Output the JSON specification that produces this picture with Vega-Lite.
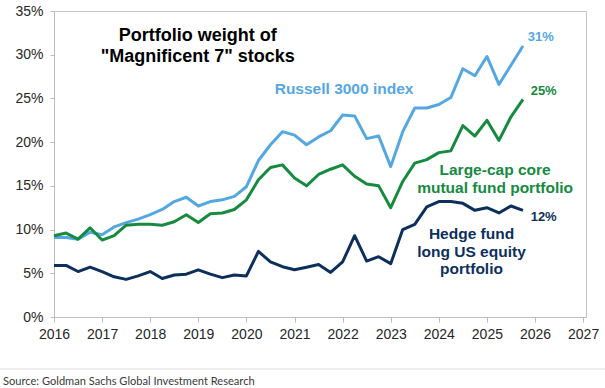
{
  "$schema": "https://vega.github.io/schema/vega-lite/v6.json",
  "width": 532,
  "height": 306,
  "autosize": "none",
  "padding": {"left": 54, "top": 11, "right": 19, "bottom": 71},
  "background": "white",
  "config": {
    "view": {"stroke": "#c4c4c4", "strokeWidth": 1},
    "axis": {"domainColor": "#bdbdbd", "tickColor": "#bdbdbd", "labelColor": "#262626", "labelFont": "Liberation Sans", "labelFontSize": 14, "grid": false, "title": null}
  },
  "datasets": {
    "series": [
      {"t": 2016.0, "g": "russell", "v": 0.091}, {"t": 2016.25, "g": "russell", "v": 0.091}, {"t": 2016.5, "g": "russell", "v": 0.089}, {"t": 2016.75, "g": "russell", "v": 0.097},
      {"t": 2017.0, "g": "russell", "v": 0.094}, {"t": 2017.25, "g": "russell", "v": 0.103}, {"t": 2017.5, "g": "russell", "v": 0.108}, {"t": 2017.75, "g": "russell", "v": 0.112},
      {"t": 2018.0, "g": "russell", "v": 0.117}, {"t": 2018.25, "g": "russell", "v": 0.123}, {"t": 2018.5, "g": "russell", "v": 0.132}, {"t": 2018.75, "g": "russell", "v": 0.137},
      {"t": 2019.0, "g": "russell", "v": 0.127}, {"t": 2019.25, "g": "russell", "v": 0.132}, {"t": 2019.5, "g": "russell", "v": 0.134}, {"t": 2019.75, "g": "russell", "v": 0.138},
      {"t": 2020.0, "g": "russell", "v": 0.149}, {"t": 2020.25, "g": "russell", "v": 0.179}, {"t": 2020.5, "g": "russell", "v": 0.197}, {"t": 2020.75, "g": "russell", "v": 0.212},
      {"t": 2021.0, "g": "russell", "v": 0.208}, {"t": 2021.25, "g": "russell", "v": 0.197}, {"t": 2021.5, "g": "russell", "v": 0.206}, {"t": 2021.75, "g": "russell", "v": 0.213},
      {"t": 2022.0, "g": "russell", "v": 0.231}, {"t": 2022.25, "g": "russell", "v": 0.230}, {"t": 2022.5, "g": "russell", "v": 0.204}, {"t": 2022.75, "g": "russell", "v": 0.207},
      {"t": 2023.0, "g": "russell", "v": 0.172}, {"t": 2023.25, "g": "russell", "v": 0.212}, {"t": 2023.5, "g": "russell", "v": 0.239}, {"t": 2023.75, "g": "russell", "v": 0.239},
      {"t": 2024.0, "g": "russell", "v": 0.243}, {"t": 2024.25, "g": "russell", "v": 0.251}, {"t": 2024.5, "g": "russell", "v": 0.284}, {"t": 2024.75, "g": "russell", "v": 0.276},
      {"t": 2025.0, "g": "russell", "v": 0.298}, {"t": 2025.25, "g": "russell", "v": 0.266}, {"t": 2025.5, "g": "russell", "v": 0.288}, {"t": 2025.75, "g": "russell", "v": 0.310},

      {"t": 2016.0, "g": "mutual", "v": 0.093}, {"t": 2016.25, "g": "mutual", "v": 0.096}, {"t": 2016.5, "g": "mutual", "v": 0.089}, {"t": 2016.75, "g": "mutual", "v": 0.102},
      {"t": 2017.0, "g": "mutual", "v": 0.088}, {"t": 2017.25, "g": "mutual", "v": 0.093}, {"t": 2017.5, "g": "mutual", "v": 0.105}, {"t": 2017.75, "g": "mutual", "v": 0.106},
      {"t": 2018.0, "g": "mutual", "v": 0.106}, {"t": 2018.25, "g": "mutual", "v": 0.105}, {"t": 2018.5, "g": "mutual", "v": 0.109}, {"t": 2018.75, "g": "mutual", "v": 0.117},
      {"t": 2019.0, "g": "mutual", "v": 0.108}, {"t": 2019.25, "g": "mutual", "v": 0.118}, {"t": 2019.5, "g": "mutual", "v": 0.119}, {"t": 2019.75, "g": "mutual", "v": 0.123},
      {"t": 2020.0, "g": "mutual", "v": 0.134}, {"t": 2020.25, "g": "mutual", "v": 0.157}, {"t": 2020.5, "g": "mutual", "v": 0.171}, {"t": 2020.75, "g": "mutual", "v": 0.174},
      {"t": 2021.0, "g": "mutual", "v": 0.159}, {"t": 2021.25, "g": "mutual", "v": 0.150}, {"t": 2021.5, "g": "mutual", "v": 0.163}, {"t": 2021.75, "g": "mutual", "v": 0.169},
      {"t": 2022.0, "g": "mutual", "v": 0.174}, {"t": 2022.25, "g": "mutual", "v": 0.161}, {"t": 2022.5, "g": "mutual", "v": 0.152}, {"t": 2022.75, "g": "mutual", "v": 0.150},
      {"t": 2023.0, "g": "mutual", "v": 0.125}, {"t": 2023.25, "g": "mutual", "v": 0.155}, {"t": 2023.5, "g": "mutual", "v": 0.176}, {"t": 2023.75, "g": "mutual", "v": 0.180},
      {"t": 2024.0, "g": "mutual", "v": 0.188}, {"t": 2024.25, "g": "mutual", "v": 0.190}, {"t": 2024.5, "g": "mutual", "v": 0.219}, {"t": 2024.75, "g": "mutual", "v": 0.207},
      {"t": 2025.0, "g": "mutual", "v": 0.225}, {"t": 2025.25, "g": "mutual", "v": 0.202}, {"t": 2025.5, "g": "mutual", "v": 0.229}, {"t": 2025.75, "g": "mutual", "v": 0.249},

      {"t": 2016.0, "g": "hedge", "v": 0.059}, {"t": 2016.25, "g": "hedge", "v": 0.059}, {"t": 2016.5, "g": "hedge", "v": 0.052}, {"t": 2016.75, "g": "hedge", "v": 0.057},
      {"t": 2017.0, "g": "hedge", "v": 0.052}, {"t": 2017.25, "g": "hedge", "v": 0.046}, {"t": 2017.5, "g": "hedge", "v": 0.043}, {"t": 2017.75, "g": "hedge", "v": 0.047},
      {"t": 2018.0, "g": "hedge", "v": 0.052}, {"t": 2018.25, "g": "hedge", "v": 0.044}, {"t": 2018.5, "g": "hedge", "v": 0.048}, {"t": 2018.75, "g": "hedge", "v": 0.049},
      {"t": 2019.0, "g": "hedge", "v": 0.054}, {"t": 2019.25, "g": "hedge", "v": 0.049}, {"t": 2019.5, "g": "hedge", "v": 0.045}, {"t": 2019.75, "g": "hedge", "v": 0.048},
      {"t": 2020.0, "g": "hedge", "v": 0.047}, {"t": 2020.25, "g": "hedge", "v": 0.075}, {"t": 2020.5, "g": "hedge", "v": 0.063}, {"t": 2020.75, "g": "hedge", "v": 0.0575},
      {"t": 2021.0, "g": "hedge", "v": 0.054}, {"t": 2021.25, "g": "hedge", "v": 0.057}, {"t": 2021.5, "g": "hedge", "v": 0.060}, {"t": 2021.75, "g": "hedge", "v": 0.051},
      {"t": 2022.0, "g": "hedge", "v": 0.063}, {"t": 2022.25, "g": "hedge", "v": 0.093}, {"t": 2022.5, "g": "hedge", "v": 0.064}, {"t": 2022.75, "g": "hedge", "v": 0.069},
      {"t": 2023.0, "g": "hedge", "v": 0.061}, {"t": 2023.25, "g": "hedge", "v": 0.100}, {"t": 2023.5, "g": "hedge", "v": 0.106}, {"t": 2023.75, "g": "hedge", "v": 0.126},
      {"t": 2024.0, "g": "hedge", "v": 0.132}, {"t": 2024.25, "g": "hedge", "v": 0.132}, {"t": 2024.5, "g": "hedge", "v": 0.130}, {"t": 2024.75, "g": "hedge", "v": 0.122},
      {"t": 2025.0, "g": "hedge", "v": 0.125}, {"t": 2025.25, "g": "hedge", "v": 0.119}, {"t": 2025.5, "g": "hedge", "v": 0.127}, {"t": 2025.75, "g": "hedge", "v": 0.122}
    ],
    "titleLines": [
      {"label": "Portfolio weight of", "t": 2018.99, "v": 0.3214},
      {"label": "\"Magnificent 7\" stocks", "t": 2018.99, "v": 0.2974}
    ],
    "seriesLabels": [
      {"label": "Russell 3000 index", "g": "russell", "t": 2022.03, "v": 0.2608},
      {"label": "Large-cap core", "g": "mutual", "t": 2025.17, "v": 0.1681},
      {"label": "mutual fund portfolio", "g": "mutual", "t": 2025.17, "v": 0.1475},
      {"label": "Hedge fund", "g": "hedge", "t": 2024.68, "v": 0.0949},
      {"label": "long US equity", "g": "hedge", "t": 2024.68, "v": 0.0743},
      {"label": "portfolio", "g": "hedge", "t": 2024.68, "v": 0.0549}
    ],
    "endLabels": [
      {"label": "31%", "g": "russell", "t": 2026.12, "v": 0.3199},
      {"label": "25%", "g": "mutual", "t": 2026.18, "v": 0.2588},
      {"label": "12%", "g": "hedge", "t": 2026.18, "v": 0.1147}
    ],
    "sourceRule": [
      {"t": 2014.877, "t2": 2027.455, "v": -0.0595}
    ],
    "sourceText": [
      {"label": "Source: Goldman Sachs Global Investment Research", "t": 2014.94, "v": -0.0743}
    ]
  },
  "encoding": {
    "x": {
      "field": "t", "type": "quantitative",
      "scale": {"domain": [2016, 2027.06], "nice": false, "zero": false},
      "axis": {"values": [2016, 2017, 2018, 2019, 2020, 2021, 2022, 2023, 2024, 2025, 2026, 2027], "format": "d", "tickSize": 5, "labelPadding": 5, "labelFlush": false, "labelOverlap": false}
    },
    "y": {
      "field": "v", "type": "quantitative",
      "scale": {"domain": [0, 0.35], "nice": false, "zero": true},
      "axis": {"values": [0, 0.05, 0.1, 0.15, 0.2, 0.25, 0.3, 0.35], "format": ".0%", "tickSize": 4, "labelPadding": 7}
    }
  },
  "layer": [
    {
      "data": {"name": "series"},
      "mark": {"type": "line", "strokeWidth": 3, "strokeJoin": "round"},
      "encoding": {
        "color": {"field": "g", "type": "nominal", "scale": {"domain": ["russell", "mutual", "hedge"], "range": ["#55A7E2", "#168A3F", "#0D2F5C"]}, "legend": null},
        "detail": {"field": "g"}
      }
    },
    {
      "data": {"name": "titleLines"},
      "mark": {"type": "text", "font": "Liberation Sans", "fontSize": 18, "fontWeight": "bold", "color": "#000000", "align": "center", "baseline": "middle"},
      "encoding": {"text": {"field": "label"}}
    },
    {
      "data": {"name": "seriesLabels"},
      "mark": {"type": "text", "font": "Liberation Sans", "fontSize": 15.5, "fontWeight": "bold", "align": "center", "baseline": "middle"},
      "encoding": {"text": {"field": "label"}, "color": {"field": "g", "type": "nominal", "legend": null}}
    },
    {
      "data": {"name": "endLabels"},
      "mark": {"type": "text", "font": "Liberation Sans", "fontSize": 13, "fontWeight": "bold", "align": "center", "baseline": "middle"},
      "encoding": {"text": {"field": "label"}, "color": {"field": "g", "type": "nominal", "legend": null}}
    },
    {
      "data": {"name": "sourceRule"},
      "mark": {"type": "rule", "color": "#dcdcdc", "strokeWidth": 1},
      "encoding": {"x2": {"field": "t2"}}
    },
    {
      "data": {"name": "sourceText"},
      "mark": {"type": "text", "font": "Lato", "fontSize": 11.1, "color": "#3a3a3a", "align": "left", "baseline": "middle"},
      "encoding": {"text": {"field": "label"}}
    }
  ]
}
